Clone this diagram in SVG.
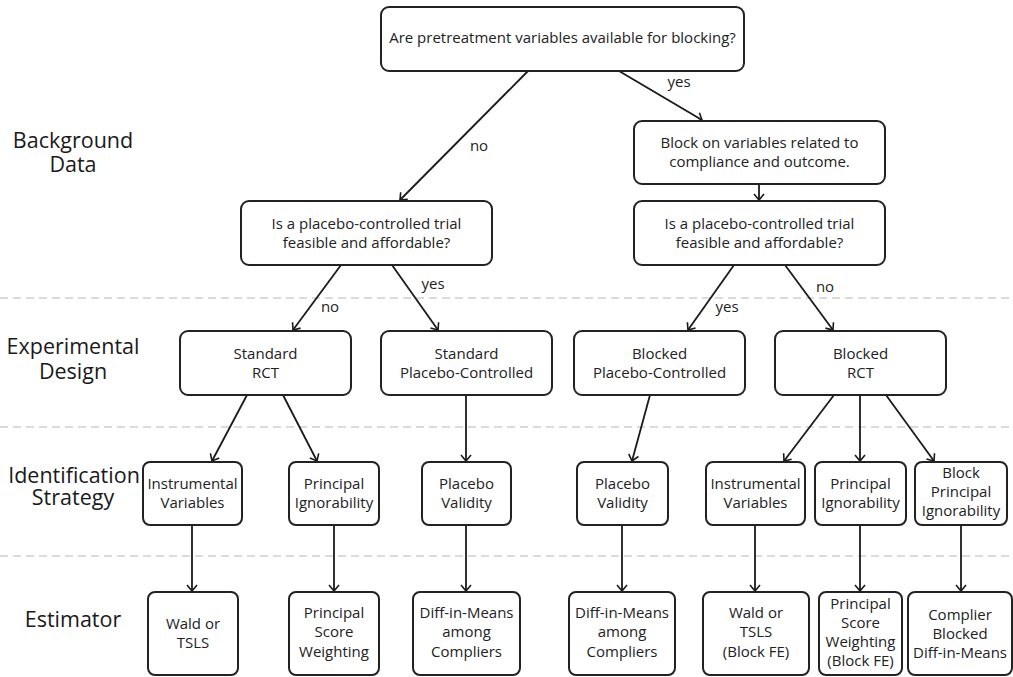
<svg xmlns="http://www.w3.org/2000/svg" width="1013" height="677" viewBox="0 0 1013 677">
<style>
.box{fill:#fff;stroke:#222;stroke-width:2}
.t{font-family:"Open Sans","Liberation Sans",sans-serif;font-size:15px;fill:#222;text-anchor:middle}
.lab{font-family:"Open Sans","Liberation Sans",sans-serif;font-size:21.5px;fill:#1a1a1a;text-anchor:middle}
.el{font-family:"Open Sans","Liberation Sans",sans-serif;font-size:15px;fill:#222;text-anchor:middle}
.sep{stroke:#d0d0d0;stroke-width:1.5;stroke-dasharray:8 5}
.c{stroke:#1a1a1a;stroke-width:1.8;fill:none;marker-end:url(#ah)}
</style>
<defs>
<marker id="ah" viewBox="-8 -6 9 12" refX="0" refY="0" markerWidth="9" markerHeight="12" markerUnits="userSpaceOnUse" orient="auto">
<path d="M-6,-5 L0,0 L-6,5" fill="none" stroke="#1a1a1a" stroke-width="1.6"/>
</marker>
</defs>
<rect width="1013" height="677" fill="#fff"/>
<g id="separators">
<line class="sep" x1="0" y1="298" x2="1013" y2="298"/>
<line class="sep" x1="0" y1="427" x2="1013" y2="427"/>
<line class="sep" x1="0" y1="556" x2="1013" y2="556"/>
</g>
<g id="row-labels">
<text class="lab"><tspan x="73" y="148">Background</tspan><tspan x="73" y="172">Data</tspan></text>
<text class="lab"><tspan x="73" y="354">Experimental</tspan><tspan x="73" y="379">Design</tspan></text>
<text class="lab"><tspan x="74" y="483">Identification</tspan><tspan x="73" y="505">Strategy</tspan></text>
<text class="lab" x="73" y="627">Estimator</text>
</g>
<g id="connectors">
<line class="c" x1="528" y1="71" x2="400" y2="200"/>
<line class="c" x1="619" y1="71" x2="702" y2="120"/>
<line class="c" x1="759" y1="184" x2="759" y2="200"/>
<line class="c" x1="341" y1="265" x2="293" y2="330"/>
<line class="c" x1="392" y1="265" x2="438" y2="330"/>
<line class="c" x1="734" y1="265" x2="688" y2="330"/>
<line class="c" x1="785" y1="265" x2="833" y2="330"/>
<line class="c" x1="247" y1="395" x2="212" y2="461"/>
<line class="c" x1="283" y1="395" x2="317" y2="461"/>
<line class="c" x1="466" y1="395" x2="466" y2="461"/>
<line class="c" x1="650" y1="395" x2="632" y2="461"/>
<line class="c" x1="834" y1="395" x2="784" y2="461"/>
<line class="c" x1="860" y1="395" x2="860" y2="461"/>
<line class="c" x1="886" y1="395" x2="934" y2="461"/>
<line class="c" x1="192" y1="525" x2="192" y2="591"/>
<line class="c" x1="334" y1="525" x2="334" y2="591"/>
<line class="c" x1="466" y1="525" x2="466" y2="591"/>
<line class="c" x1="622" y1="525" x2="622" y2="591"/>
<line class="c" x1="755" y1="525" x2="755" y2="591"/>
<line class="c" x1="860" y1="525" x2="860" y2="591"/>
<line class="c" x1="961" y1="525" x2="961" y2="591"/>
<text class="el" x="479" y="151">no</text>
<text class="el" x="679" y="87">yes</text>
<text class="el" x="433" y="289">yes</text>
<text class="el" x="825" y="292">no</text>
<text class="el" x="330" y="312">no</text>
<text class="el" x="727" y="312">yes</text>
</g>
<g id="q-top">
<rect class="box" x="381" y="7" width="363" height="64" rx="8"/>
<text class="t" x="562.5" y="43">Are pretreatment variables available for blocking?</text>
</g>
<g id="block-step">
<rect class="box" x="634" y="121" width="251" height="63" rx="8"/>
<text class="t" x="759.5" y="148">Block on variables related to</text>
<text class="t" x="759.5" y="167">compliance and outcome.</text>
</g>
<g id="q-left">
<rect class="box" x="241" y="201" width="251" height="64" rx="8"/>
<text class="t" x="366.5" y="229">Is a placebo-controlled trial</text>
<text class="t" x="366.5" y="248">feasible and affordable?</text>
</g>
<g id="q-right">
<rect class="box" x="634" y="201" width="251" height="64" rx="8"/>
<text class="t" x="759.5" y="229">Is a placebo-controlled trial</text>
<text class="t" x="759.5" y="248">feasible and affordable?</text>
</g>
<g id="standard-rct">
<rect class="box" x="180" y="331" width="171" height="64" rx="8"/>
<text class="t" x="265.5" y="359">Standard</text>
<text class="t" x="265.5" y="378">RCT</text>
</g>
<g id="standard-pc">
<rect class="box" x="381" y="331" width="171" height="64" rx="8"/>
<text class="t" x="466.5" y="359">Standard</text>
<text class="t" x="466.5" y="378">Placebo-Controlled</text>
</g>
<g id="blocked-pc">
<rect class="box" x="574" y="331" width="171" height="64" rx="8"/>
<text class="t" x="659.5" y="359">Blocked</text>
<text class="t" x="659.5" y="378">Placebo-Controlled</text>
</g>
<g id="blocked-rct">
<rect class="box" x="775" y="331" width="171" height="64" rx="8"/>
<text class="t" x="860.5" y="359">Blocked</text>
<text class="t" x="860.5" y="378">RCT</text>
</g>
<g id="iv-left">
<rect class="box" x="143" y="462" width="99" height="63" rx="7"/>
<text class="t" x="192.5" y="489">Instrumental</text>
<text class="t" x="192.5" y="508">Variables</text>
</g>
<g id="pi-left">
<rect class="box" x="289" y="462" width="90" height="63" rx="7"/>
<text class="t" x="334" y="489">Principal</text>
<text class="t" x="334" y="508">Ignorability</text>
</g>
<g id="pv-left">
<rect class="box" x="422" y="462" width="89" height="63" rx="7"/>
<text class="t" x="466.5" y="489">Placebo</text>
<text class="t" x="466.5" y="508">Validity</text>
</g>
<g id="pv-right">
<rect class="box" x="577" y="462" width="91" height="63" rx="7"/>
<text class="t" x="622.5" y="489">Placebo</text>
<text class="t" x="622.5" y="508">Validity</text>
</g>
<g id="iv-right">
<rect class="box" x="706" y="462" width="99" height="63" rx="7"/>
<text class="t" x="755.5" y="489">Instrumental</text>
<text class="t" x="755.5" y="508">Variables</text>
</g>
<g id="pi-right">
<rect class="box" x="815" y="462" width="91" height="63" rx="7"/>
<text class="t" x="860.5" y="489">Principal</text>
<text class="t" x="860.5" y="508">Ignorability</text>
</g>
<g id="bpi">
<rect class="box" x="915" y="462" width="92" height="63" rx="7"/>
<text class="t" x="961" y="478">Block</text>
<text class="t" x="961" y="497">Principal</text>
<text class="t" x="961" y="516">Ignorability</text>
</g>
<g id="wald-left">
<rect class="box" x="148" y="592" width="90" height="83" rx="7"/>
<text class="t" x="193" y="629">Wald or</text>
<text class="t" x="193" y="648">TSLS</text>
</g>
<g id="psw-left">
<rect class="box" x="289" y="592" width="90" height="83" rx="7"/>
<text class="t" x="334" y="618">Principal</text>
<text class="t" x="334" y="637">Score</text>
<text class="t" x="334" y="657">Weighting</text>
</g>
<g id="dim-left">
<rect class="box" x="413" y="592" width="107" height="83" rx="7"/>
<text class="t" x="466.5" y="618">Diff-in-Means</text>
<text class="t" x="466.5" y="637">among</text>
<text class="t" x="466.5" y="657">Compliers</text>
</g>
<g id="dim-right">
<rect class="box" x="569" y="592" width="106" height="83" rx="7"/>
<text class="t" x="622" y="618">Diff-in-Means</text>
<text class="t" x="622" y="637">among</text>
<text class="t" x="622" y="657">Compliers</text>
</g>
<g id="wald-right">
<rect class="box" x="703" y="592" width="106" height="83" rx="7"/>
<text class="t" x="756" y="618">Wald or</text>
<text class="t" x="756" y="637">TSLS</text>
<text class="t" x="756" y="657">(Block FE)</text>
</g>
<g id="psw-right">
<rect class="box" x="819" y="592" width="83" height="83" rx="7"/>
<text class="t" x="860.5" y="609">Principal</text>
<text class="t" x="860.5" y="628">Score</text>
<text class="t" x="860.5" y="647">Weighting</text>
<text class="t" x="860.5" y="666">(Block FE)</text>
</g>
<g id="cbdim">
<rect class="box" x="908" y="592" width="104" height="83" rx="7"/>
<text class="t" x="960" y="620">Complier</text>
<text class="t" x="960" y="639">Blocked</text>
<text class="t" x="960" y="658">Diff-in-Means</text>
</g>
</svg>
